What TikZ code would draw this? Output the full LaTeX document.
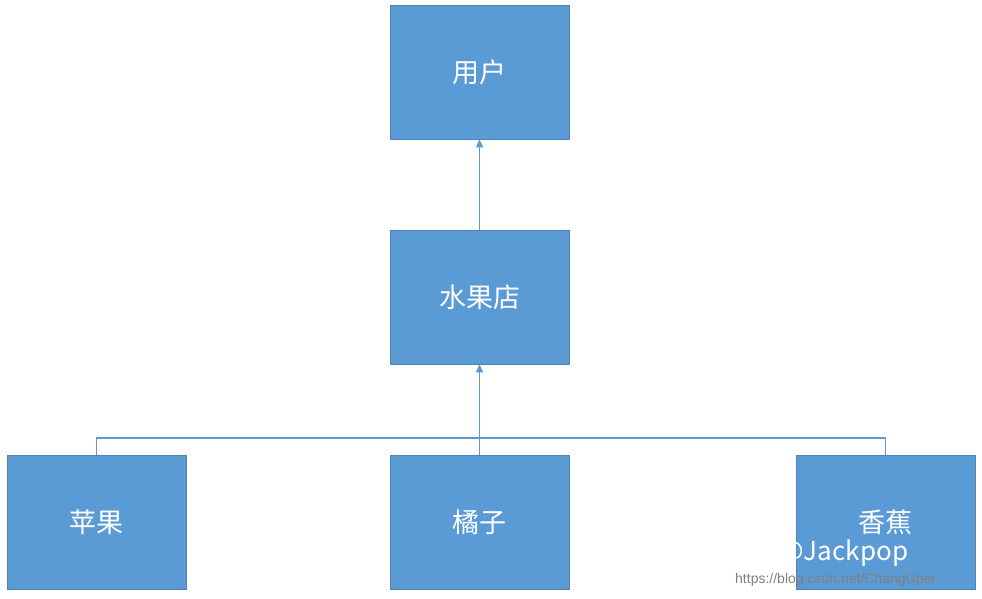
\documentclass[tikz,border=0pt]{standalone}
\usepackage{fontspec}
\newfontfamily\cjk{Noto Sans CJK SC}
\setmainfont{Liberation Sans}
\usetikzlibrary{arrows.meta}
\definecolor{boxblue}{HTML}{5B9BD5}
\definecolor{lineblue}{HTML}{5B9BD5}
\begin{document}
\begin{tikzpicture}[x=1pt,y=-1pt,
  box/.style={fill=boxblue,draw=boxblue!85!black,line width=0.5pt,minimum width=179pt,minimum height=134pt,text=white,font=\cjk\fontsize{27}{30}\selectfont,inner sep=0pt},
  conn/.style={draw=lineblue,line width=1.2pt},
  arr/.style={conn,-{Triangle[length=8pt,width=7pt]}}]
\useasboundingbox (0,0) rectangle (982,599);
\node[box] (user) at (479.5,72) {用户};
\node[box] (shop) at (479.5,297) {水果店};
\node[box] (apple) at (96.5,522) {苹果};
\node[box] (orange) at (479.5,522) {橘子};
\node[box] (banana) at (885.5,522) {香蕉};
\coordinate (j) at (479.5,438);
\draw[arr] (shop.north) -- (user.south);
\draw[arr] (orange.north) -- (shop.south);
\draw[conn] (apple.north) |- (j) -| (banana.north);
\node[anchor=west,text=white,font=\cjk\fontsize{26}{28}\selectfont] (wm1) at (718,553) {知乎 @Jackpop};
\node[anchor=west,text=gray,font=\fontsize{14}{16}\selectfont,inner sep=0pt] (wm2) at (735,580) {https://blog.csdn.net/ChangUper};
\end{tikzpicture}
\end{document}
